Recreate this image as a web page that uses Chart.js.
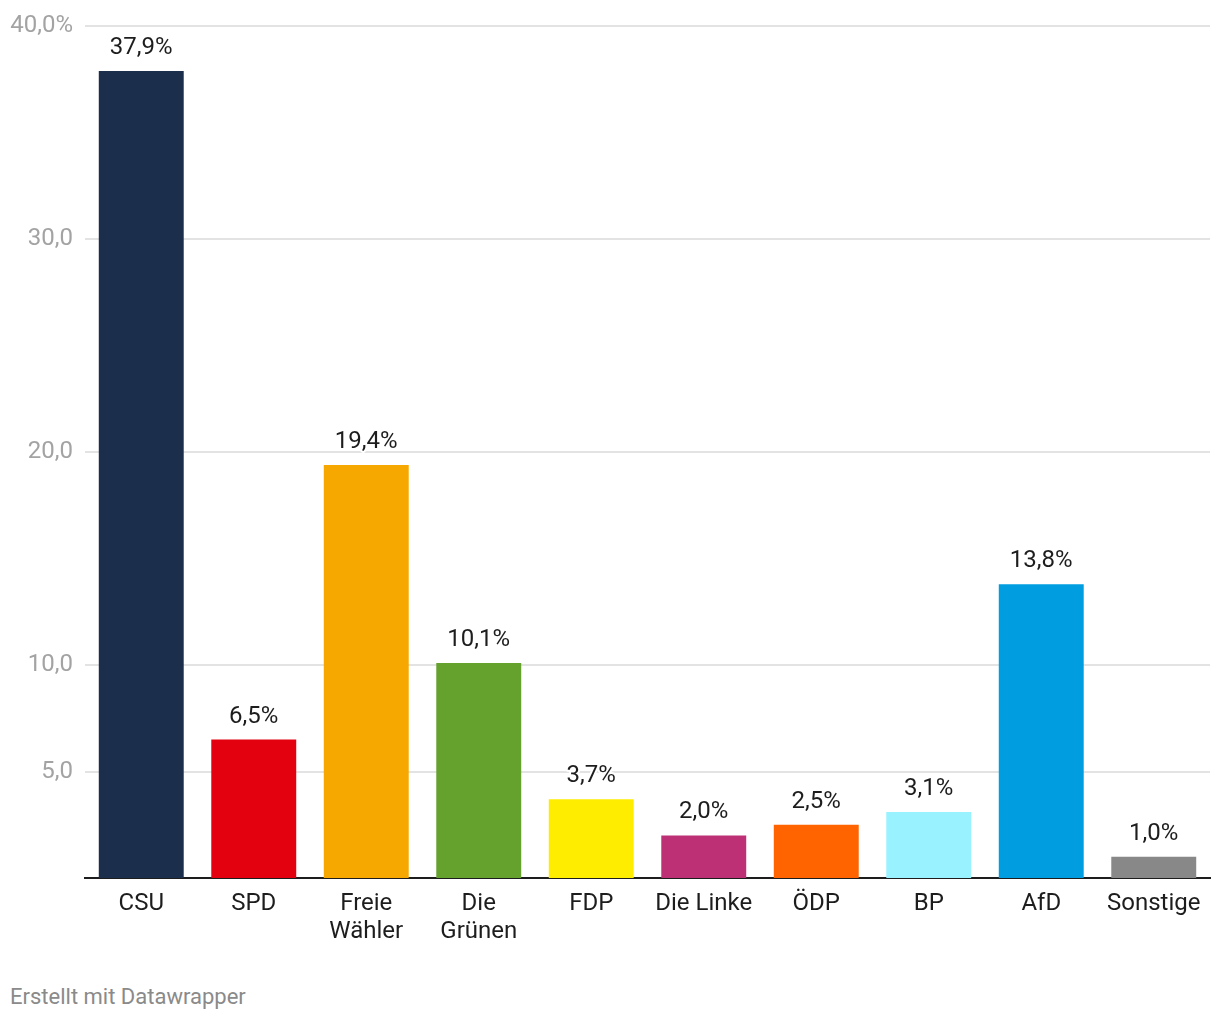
<!DOCTYPE html>
<html>
<head>
<meta charset="utf-8">
<script src="https://cdn.jsdelivr.net/npm/chart.js@4"></script>
<style>
    body { margin: 0; background: #fff; font-family: Roboto, sans-serif; }
    #wrap { position: relative; width: 1220px; height: 960px; }
    #footer { position: absolute; left: 10px; top: 984px; font-size: 22px; color: #8a8a8a; }
</style>
</head>
<body>
<div id="wrap"><canvas id="chart"></canvas></div>
<div id="footer">Erstellt mit Datawrapper</div>
<script>
const parties = ["CSU", "SPD", ["Freie", "Wähler"], ["Die", "Grünen"], "FDP", "Die Linke", "ÖDP", "BP", "AfD", "Sonstige"];
const shares = [37.9, 6.5, 19.4, 10.1, 3.7, 2.0, 2.5, 3.1, 13.8, 1.0];
const partyColors = ["#1b2e4b", "#e3000f", "#f7a800", "#64a12d", "#ffed00", "#be3075", "#ff6400", "#98f2ff", "#009ee0", "#888888"];
const yTicks = [5, 10, 20, 30, 40];

const fmt = (v) => v.toFixed(1).replace(".", ",");

// value labels above bars, with a white halo like datawrapper
const valueLabels = {
    id: "valueLabels",
    afterDatasetsDraw(chart) {
        const ctx = chart.ctx;
        const meta = chart.getDatasetMeta(0);
        ctx.save();
        ctx.font = "24px Roboto";
        ctx.textAlign = "center";
        ctx.textBaseline = "alphabetic";
        ctx.lineJoin = "round";
        meta.data.forEach((bar, i) => {
            const txt = fmt(shares[i]) + "%";
            ctx.strokeStyle = "#fff";
            ctx.lineWidth = 4;
            ctx.strokeText(txt, bar.x, bar.y - 17);
            ctx.fillStyle = "#1d1d1d";
            ctx.fillText(txt, bar.x, bar.y - 17);
        });
        ctx.restore();
    }
};

new Chart(document.getElementById("chart"), {
    type: "bar",
    data: {
        labels: parties,
        datasets: [{
            data: shares,
            backgroundColor: partyColors,
            barPercentage: 0.755,
            categoryPercentage: 1.0
        }]
    },
    options: {
        responsive: true,
        maintainAspectRatio: false,
        animation: false,
        layout: { padding: { top: 21, right: 10, left: 0, bottom: 0 } },
        plugins: { legend: { display: false }, tooltip: { enabled: false } },
        scales: {
            x: {
                grid: { display: false, drawTicks: false },
                border: { display: true, color: "#1d1d1d", width: 2 },
                ticks: {
                    color: "#1d1d1d",
                    font: { family: "Roboto", size: 24, lineHeight: 1.17 },
                    padding: 12,
                    maxRotation: 0,
                    autoSkip: false
                },
                afterFit(scale) { scale.height = 82; }
            },
            y: {
                min: 0,
                max: 40,
                border: { display: false },
                grid: { color: "#e3e3e3", lineWidth: 2, drawTicks: false },
                afterBuildTicks(scale) {
                    scale.ticks = yTicks.map(v => ({ value: v }));
                },
                ticks: {
                    color: "#a3a3a3",
                    font: { family: "Roboto", size: 24 },
                    padding: 12,
                    callback: (v) => v === 40 ? fmt(v) + "%" : fmt(v)
                },
                afterFit(scale) { scale.width = 85; }
            }
        }
    },
    plugins: [valueLabels]
});
</script>
</body>
</html>
